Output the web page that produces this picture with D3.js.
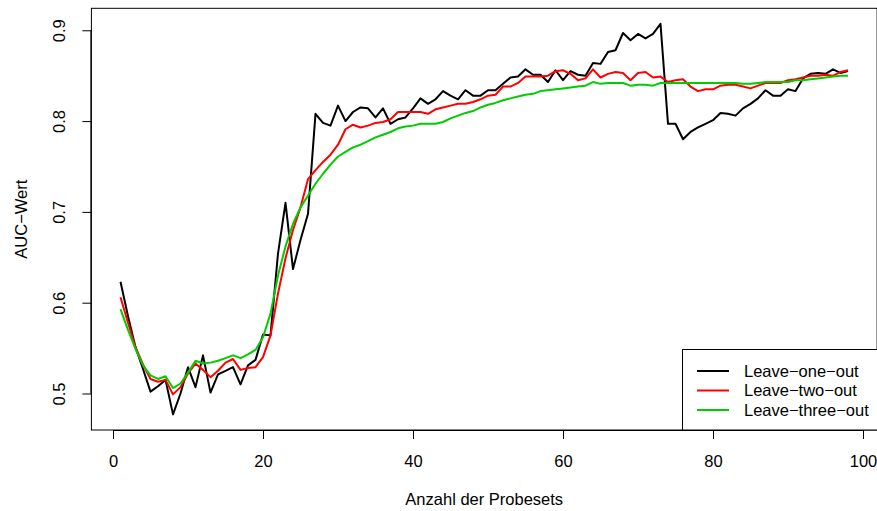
<!DOCTYPE html>
<html>
<head>
<meta charset="utf-8">
<script src="https://cdn.jsdelivr.net/npm/d3@7"></script>
<style>
html,body{margin:0;padding:0;background:#fff;}
svg{display:block;}
text{font-family:"Liberation Sans",Arial,Helvetica,sans-serif;fill:#000;}
</style>
</head>
<body>
<svg id="chart" width="877" height="511"></svg>
<script>
const probesets = d3.range(1, 99);
const leaveOneOut = [0.623,0.585,0.551,0.527,0.502,0.508,0.515,0.477,0.500,0.529,
0.507,0.542,0.501,0.521,0.525,0.529,0.510,0.531,0.537,0.565,
0.564,0.654,0.710,0.637,0.669,0.698,0.808,0.798,0.795,0.817,
0.800,0.810,0.815,0.814,0.804,0.814,0.797,0.802,0.804,0.814,
0.825,0.819,0.824,0.833,0.828,0.824,0.834,0.828,0.828,0.834,
0.834,0.841,0.848,0.849,0.857,0.851,0.851,0.843,0.856,0.845,
0.855,0.851,0.850,0.864,0.863,0.876,0.878,0.897,0.889,0.896,
0.891,0.896,0.907,0.797,0.797,0.780,0.788,0.793,0.797,0.801,
0.809,0.808,0.806,0.814,0.819,0.825,0.834,0.828,0.828,0.835,
0.833,0.847,0.852,0.853,0.852,0.857,0.853,0.855];
const leaveTwoOut = [0.606,0.578,0.551,0.532,0.516,0.513,0.515,0.499,0.507,0.522,
0.533,0.526,0.518,0.525,0.534,0.538,0.526,0.528,0.529,0.540,
0.564,0.610,0.649,0.680,0.705,0.736,0.746,0.755,0.763,0.774,
0.791,0.796,0.793,0.795,0.798,0.799,0.802,0.810,0.810,0.810,
0.810,0.808,0.813,0.815,0.817,0.819,0.819,0.821,0.824,0.828,
0.829,0.838,0.838,0.842,0.849,0.849,0.849,0.850,0.855,0.856,
0.852,0.845,0.847,0.857,0.848,0.852,0.854,0.853,0.845,0.853,
0.854,0.848,0.849,0.843,0.845,0.846,0.838,0.833,0.835,0.835,
0.839,0.840,0.840,0.838,0.836,0.839,0.842,0.842,0.842,0.845,
0.846,0.848,0.850,0.850,0.851,0.850,0.854,0.856];
const leaveThreeOut = [0.593,0.570,0.549,0.531,0.520,0.516,0.519,0.506,0.511,0.523,
0.536,0.533,0.534,0.536,0.539,0.542,0.539,0.543,0.548,0.562,
0.588,0.630,0.662,0.687,0.705,0.718,0.731,0.742,0.752,0.761,
0.766,0.771,0.774,0.778,0.782,0.785,0.788,0.792,0.794,0.795,
0.797,0.797,0.797,0.799,0.803,0.806,0.809,0.811,0.815,0.818,
0.820,0.823,0.825,0.827,0.829,0.830,0.833,0.834,0.835,0.836,
0.837,0.838,0.839,0.843,0.841,0.842,0.842,0.842,0.839,0.840,
0.840,0.839,0.842,0.842,0.842,0.842,0.842,0.842,0.842,0.842,
0.842,0.842,0.842,0.841,0.841,0.842,0.843,0.843,0.843,0.843,
0.845,0.845,0.846,0.847,0.848,0.849,0.850,0.850];
const seriesNames = ["Leave\u2212one\u2212out","Leave\u2212two\u2212out","Leave\u2212three\u2212out"];
const seriesColors = ["#000000","#FF0000","#00CD00"];
const xTicks = [0,20,40,60,80,100];
const yTicks = [0.5,0.6,0.7,0.8,0.9];
const xTitle = "Anzahl der Probesets";
const yTitle = "AUC\u2212Wert";

const series = [leaveOneOut, leaveTwoOut, leaveThreeOut];
const svg = d3.select("#chart");
const L = 91.4, R = 877.1, T = 8.3, B = 430;
const FS = 16.5;

// R-style 4% axis extension
const xExt = d3.extent(probesets), xPad = (xExt[1]-xExt[0])*0.04;
const allY = series.flat();
const yExt = d3.extent(allY), yPad = (yExt[1]-yExt[0])*0.04;

const x = d3.scaleLinear().domain([xExt[0]-xPad, xExt[1]+xPad]).range([L, R]);
const y = d3.scaleLinear().domain([yExt[0]-yPad, yExt[1]+yPad]).range([B, T]);

svg.append("rect").attr("width",877).attr("height",511).attr("fill","#fff");

const line = d3.line().x((d,i)=>x(probesets[i])).y(d=>y(d));
series.forEach((s,k)=>{
  svg.append("path").datum(s).attr("d",line)
    .attr("fill","none").attr("stroke",seriesColors[k]).attr("stroke-width",2)
    .attr("stroke-linejoin","round");
});

// box
svg.append("rect").attr("x",L).attr("y",T).attr("width",R-L).attr("height",B-T)
  .attr("fill","none").attr("stroke","#000").attr("stroke-width",1);

// x axis
const xAxis = d3.axisBottom(x).tickValues(xTicks).tickSize(9).tickPadding(16).tickFormat(d3.format("d"));
const gx = svg.append("g").attr("transform",`translate(0,${B})`).call(xAxis);
gx.select(".domain").attr("d",`M${x(0)},0.5H${x(100)}`).attr("stroke","#000");
gx.selectAll(".tick line").attr("stroke","#000");
gx.selectAll("text").attr("font-size",FS).attr("font-family","Liberation Sans, Arial, sans-serif").attr("fill","#000");

// y axis
const yAxis = d3.axisLeft(y).tickValues(yTicks).tickSize(9).tickFormat(d3.format(".1f"));
const gy = svg.append("g").attr("transform",`translate(${L},0)`).call(yAxis);
gy.select(".domain").attr("d",`M-0.5,${y(0.5)}V${y(0.9)}`).attr("stroke","#000");
gy.selectAll(".tick line").attr("stroke","#000");
gy.selectAll(".tick text").remove();
gy.selectAll(".tick").append("text")
  .attr("transform","translate(-26,0) rotate(-90)")
  .attr("text-anchor","middle").attr("font-size",FS)
  .attr("font-family","Liberation Sans, Arial, sans-serif").attr("fill","#000")
  .text(d=>d3.format(".1f")(d));

// titles
svg.append("text").attr("x",(L+R)/2).attr("y",505).attr("text-anchor","middle")
  .attr("font-size",FS).text(xTitle);
svg.append("text").attr("transform",`translate(27,${(T+B)/2}) rotate(-90)`)
  .attr("text-anchor","middle").attr("font-size",FS).text(yTitle);

// legend
const lg = svg.append("g");
lg.append("rect").attr("x",682.5).attr("y",349.5).attr("width",200).attr("height",B-349.5)
  .attr("fill","#fff").attr("stroke","#000").attr("stroke-width",1);
seriesNames.forEach((n,k)=>{
  const yy = 371 + k*19.5;
  lg.append("line").attr("x1",697).attr("x2",729).attr("y1",yy).attr("y2",yy)
    .attr("stroke",seriesColors[k]).attr("stroke-width",2);
  lg.append("text").attr("x",744).attr("y",yy+5.5).attr("font-size",FS).text(n);
});
</script>
</body>
</html>
